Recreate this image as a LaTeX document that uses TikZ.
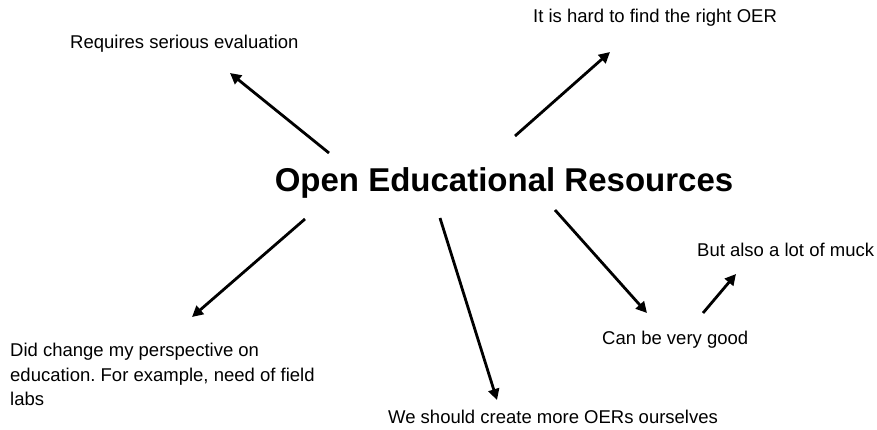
\documentclass[tikz,border=0pt]{standalone}
\usepackage{fontspec}
\setmainfont{Liberation Sans}
\usetikzlibrary{arrows.meta}
\frenchspacing
\begin{document}
\begin{tikzpicture}[x=1pt,y=-1pt,
  lbl/.style={anchor=west,inner sep=0pt,font=\fontsize{18.5}{24.5}\selectfont},
  arr/.style={line width=2.8pt,-{Triangle[length=11pt,width=11pt]}}]
\useasboundingbox (0,0) rectangle (877,430);
\node[inner sep=0pt,font=\bfseries\fontsize{33}{38}\selectfont] (title) at (504,183) {Open Educational Resources};
\node[lbl] (eval) at (70,44) {Requires serious evaluation};
\node[lbl] (hard) at (533,18) {It is hard to find the right OER};
\node[lbl] (muck) at (697,250) {But also a lot of muck};
\node[lbl] (good) at (602,340) {Can be very good};
\node[lbl] (create) at (388,417) {We should create more OERs ourselves};
\node[lbl,align=left,anchor=north west] (persp) at (10,343) {Did change my perspective on\\education. For example, need of field\\labs};
\coordinate (a1s) at (329,153); \coordinate (a1e) at (230,73);
\coordinate (a2s) at (515,136); \coordinate (a2e) at (610,52);
\coordinate (a3s) at (305,219); \coordinate (a3e) at (192,317);
\coordinate (a4s) at (440,218); \coordinate (a4e) at (497,400);
\coordinate (a5s) at (555,210); \coordinate (a5e) at (647,313);
\coordinate (a6s) at (703,313); \coordinate (a6e) at (736,274);
\draw[arr] (a1s) -- (a1e);
\draw[arr] (a2s) -- (a2e);
\draw[arr] (a3s) -- (a3e);
\draw[arr] (a4s) -- (a4e);
\draw[arr] (a5s) -- (a5e);
\draw[arr] (a6s) -- (a6e);
\end{tikzpicture}
\end{document}
